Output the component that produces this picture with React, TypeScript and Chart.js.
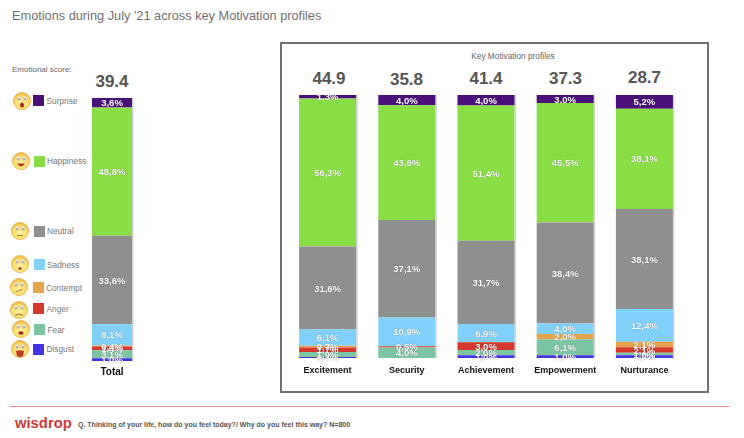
import React, { useEffect, useRef } from "react";
import { Chart, registerables } from "chart.js";

Chart.register(...registerables);

const totalCategories = ["Total"];
const profileCategories = ["Excitement", "Security", "Achievement", "Empowerment", "Nurturance"];

const emotionNames = ["Disgust", "Fear", "Anger", "Contempt", "Sadness", "Neutral", "Happiness", "Surprise"];
const emotionColors = ["#4433e6", "#7cc5a2", "#d4372b", "#e5a34c", "#80d0fa", "#8f8f8f", "#8ade45", "#4a0f78"];

const totalDisgust = [1.0];
const totalFear = [3.1];
const totalAnger = [1.4];
const totalContempt = [0.4];
const totalSadness = [8.1];
const totalNeutral = [33.6];
const totalHappiness = [48.8];
const totalSurprise = [3.6];

const disgust = [0.4, 0, 1.0, 1.0, 1.0];
const fear = [1.9, 4.0, 2.0, 6.1, 1.0];
const anger = [1.7, 0.5, 3.0, 0, 2.1];
const contempt = [0.7, 0, 0, 2.0, 2.1];
const sadness = [6.1, 10.9, 6.9, 4.0, 12.4];
const neutral = [31.6, 37.1, 31.7, 38.4, 38.1];
const happiness = [56.3, 43.6, 51.4, 45.5, 38.1];
const surprise = [1.3, 4.0, 4.0, 3.0, 5.2];

const totalScore = "39.4";
const profileScores = ["44.9", "35.8", "41.4", "37.3", "28.7"];

const font = '"Liberation Sans", Arial, sans-serif';

const segmentPlugin = {
  id: "segments",
  beforeDatasetsDraw(chart: any) {
    const { ctx, scales } = chart;
    const bars = chart.getDatasetMeta(0).data;
    ctx.save();
    ctx.fillStyle = "#d2d2d2";
    bars.forEach((b: any) => {
      ctx.fillRect(b.x + b.width / 2, scales.y.top, 1.5, scales.y.bottom - scales.y.top);
    });
    ctx.restore();
  },
  afterDatasetsDraw(chart: any) {
    const { ctx } = chart;
    ctx.save();
    ctx.font = `bold 9.5px ${font}`;
    ctx.textAlign = "center";
    ctx.textBaseline = "middle";
    ctx.fillStyle = "#ffffff";
    ctx.shadowColor = "rgba(0,0,0,0.45)";
    ctx.shadowBlur = 1;
    chart.data.datasets.forEach((ds: any, i: number) => {
      chart.getDatasetMeta(i).data.forEach((b: any, j: number) => {
        const v = ds.data[j];
        if (!v) return;
        const mid = (b.y + b.base) / 2;
        ctx.fillText(`${v.toFixed(1).replace(".", ",")}%`, b.x, mid + 1);
      });
    });
    ctx.restore();
  },
};

function Stack(props: {
  categories: string[];
  series: number[][];
  left: number;
  top: number;
  width: number;
  barPercentage: number;
  tickSize: number;
  tickPadding: number;
}) {
  const ref = useRef<HTMLCanvasElement>(null);
  useEffect(() => {
    const chart = new Chart(ref.current as HTMLCanvasElement, {
      type: "bar",
      data: {
        labels: props.categories,
        datasets: props.series.map((data, i) => ({
          label: emotionNames[i],
          data,
          backgroundColor: emotionColors[i],
          borderWidth: 0,
          barPercentage: props.barPercentage,
          categoryPercentage: 1,
        })),
      },
      options: {
        animation: false,
        responsive: false,
        layout: { padding: 0 },
        plugins: { legend: { display: false }, tooltip: { enabled: false } },
        scales: {
          x: {
            stacked: true,
            grid: { display: false, drawTicks: false },
            border: { display: false },
            ticks: {
              color: "#111111",
              padding: props.tickPadding,
              maxRotation: 0,
              autoSkip: false,
              font: { family: font, weight: "bold", size: props.tickSize },
            },
            afterFit: (s: any) => {
              s.height = 30;
            },
          },
          y: { stacked: true, display: false, min: 0, max: 100 },
        },
      } as any,
      plugins: [segmentPlugin],
    });
    return () => chart.destroy();
  }, []);
  return (
    <canvas
      ref={ref}
      width={props.width}
      height={293}
      style={{ position: "absolute", left: props.left, top: props.top, width: props.width, height: 293 }}
    />
  );
}

type Mouth = "o" | "smile" | "flat" | "sad" | "smirk" | "angry" | "fear" | "tongue";

function Face({ cx, cy, mouth, id }: { cx: number; cy: number; mouth: Mouth; id: string }) {
  const mouths: Record<Mouth, React.ReactNode> = {
    o: <ellipse cx="10" cy="14" rx="2" ry="2.6" fill="#a3261c" />,
    smile: <path d="M6 12.5 Q10 18 14 12.5 Z" fill="#b8301f" />,
    flat: <path d="M7 14.5 H13" stroke="#a5762a" strokeWidth="1" />,
    sad: <ellipse cx="10" cy="14.5" rx="1.6" ry="1.2" fill="#a3261c" />,
    smirk: <path d="M6.5 15 Q10 13 13.5 12.5" stroke="#a5762a" strokeWidth="1" fill="none" />,
    angry: <path d="M6.5 15.5 Q10 12.5 13.5 15.5" stroke="#8a5a20" strokeWidth="1.2" fill="none" />,
    fear: <ellipse cx="10" cy="14" rx="2.6" ry="1.8" fill="#a3261c" />,
    tongue: <path d="M6 12 Q10 10.5 14 12 L13 17 Q10 19 7 17 Z" fill="#c0392b" />,
  };
  return (
    <svg
      width="20"
      height="20"
      viewBox="0 0 20 20"
      style={{ position: "absolute", left: cx - 10, top: cy - 10 }}
    >
      <defs>
        <radialGradient id={id} cx="50%" cy="60%" r="60%">
          <stop offset="0%" stopColor="#fff3a6" />
          <stop offset="70%" stopColor="#fbdc62" />
          <stop offset="100%" stopColor="#eaa83a" />
        </radialGradient>
      </defs>
      <circle cx="10" cy="10" r="8.6" fill={`url(#${id})`} stroke="#e8a84a" strokeWidth="0.7" />
      <ellipse cx="7" cy="7.5" rx="1.9" ry="2.4" fill="#ffffff" stroke="#b98a3a" strokeWidth="0.4" />
      <ellipse cx="13" cy="7.5" rx="1.9" ry="2.4" fill="#ffffff" stroke="#b98a3a" strokeWidth="0.4" />
      <circle cx="7" cy="8" r="0.8" fill="#444" />
      <circle cx="13" cy="8" r="0.8" fill="#444" />
      {mouths[mouth]}
    </svg>
  );
}

const legendRows: { name: string; color: string; faceX: number; faceY: number; swatchX: number; y: number; mouth: Mouth }[] = [
  { name: "Surprise", color: "#4a0f78", faceX: 21.5, faceY: 101, swatchX: 33, y: 100.5, mouth: "o" },
  { name: "Happiness", color: "#8ade45", faceX: 21, faceY: 161, swatchX: 33.5, y: 161, mouth: "smile" },
  { name: "Neutral", color: "#8f8f8f", faceX: 20, faceY: 231, swatchX: 33.5, y: 231, mouth: "flat" },
  { name: "Sadness", color: "#80d0fa", faceX: 19.5, faceY: 263.5, swatchX: 33.5, y: 264.5, mouth: "sad" },
  { name: "Contempt", color: "#e5a34c", faceX: 19, faceY: 287, swatchX: 32.5, y: 287.5, mouth: "smirk" },
  { name: "Anger", color: "#d4372b", faceX: 19, faceY: 310, swatchX: 33, y: 308.5, mouth: "angry" },
  { name: "Fear", color: "#7cc5a2", faceX: 21, faceY: 329, swatchX: 34, y: 329.5, mouth: "fear" },
  { name: "Disgust", color: "#4433e6", faceX: 19.5, faceY: 349, swatchX: 33, y: 349, mouth: "tongue" },
];

const scoreCenters = [329, 406.5, 486, 565.5, 644.5];
const scoreTops = [79, 80, 79, 79, 78];

function Score({ text, cx, cy }: { text: string; cx: number; cy: number }) {
  return (
    <div
      style={{
        position: "absolute",
        left: cx - 30,
        width: 60,
        top: cy - 10,
        height: 20,
        lineHeight: "20px",
        textAlign: "center",
        fontFamily: font,
        fontWeight: 700,
        fontSize: 17,
        color: "#555555",
      }}
    >
      {text}
    </div>
  );
}

export default function App() {
  return (
    <div
      style={{
        position: "fixed",
        left: 0,
        top: 0,
        width: 744,
        height: 438,
        background: "#ffffff",
        overflow: "hidden",
        fontFamily: font,
      }}
    >
      <div style={{ position: "absolute", left: 12, top: 8, fontSize: 12.75, lineHeight: "16px", color: "#707070", whiteSpace: "nowrap" }}>
        Emotions during July '21 across key Motivation profiles
      </div>
      <div style={{ position: "absolute", left: 12, top: 63.5, fontSize: 8, lineHeight: "12px", color: "#666666", whiteSpace: "nowrap" }}>
        Emotional score:
      </div>

      {legendRows.map((r, i) => (
        <React.Fragment key={r.name}>
          <Face cx={r.faceX} cy={r.faceY} mouth={r.mouth} id={`face${i}`} />
          <div style={{ position: "absolute", left: r.swatchX, top: r.y - 5.5, width: 11, height: 11, background: r.color }} />
          <div
            style={{
              position: "absolute",
              left: r.swatchX + 13.5,
              top: r.y - 6,
              fontSize: 8.3,
              lineHeight: "12px",
              color: "#777777",
              whiteSpace: "nowrap",
            }}
          >
            {r.name}
          </div>
        </React.Fragment>
      ))}

      <Score text={totalScore} cx={112} cy={82} />
      <Stack
        categories={totalCategories}
        series={[totalDisgust, totalFear, totalAnger, totalContempt, totalSadness, totalNeutral, totalHappiness, totalSurprise]}
        left={72}
        top={97.5}
        width={80}
        barPercentage={0.5}
        tickSize={10}
        tickPadding={5}
      />

      <div
        style={{
          position: "absolute",
          left: 280,
          top: 42,
          width: 425,
          height: 347,
          border: "2px solid #707070",
        }}
      />
      <div style={{ position: "absolute", left: 413, width: 200, textAlign: "center", top: 50, fontSize: 8.3, lineHeight: "12px", color: "#666666" }}>
        Key Motivation profiles
      </div>
      {profileScores.map((s, i) => (
        <Score key={s} text={s} cx={scoreCenters[i]} cy={scoreTops[i]} />
      ))}
      <Stack
        categories={profileCategories}
        series={[disgust, fear, anger, contempt, sadness, neutral, happiness, surprise]}
        left={288}
        top={95}
        width={396}
        barPercentage={0.72}
        tickSize={9}
        tickPadding={7}
      />

      <div style={{ position: "absolute", left: 10, top: 406, width: 719, height: 1, background: "#e98a86" }} />
      <div style={{ position: "absolute", left: 15, top: 413, fontSize: 14.8, lineHeight: "20px", fontWeight: 700, color: "#d13a36", whiteSpace: "nowrap" }}>
        wisdrop
      </div>
      <div style={{ position: "absolute", left: 78, top: 419, fontSize: 7, lineHeight: "12px", fontWeight: 700, color: "#555555", whiteSpace: "nowrap" }}>
        Q. Thinking of your life, how do you feel today?/ Why do you feel this way? N=800
      </div>
    </div>
  );
}
